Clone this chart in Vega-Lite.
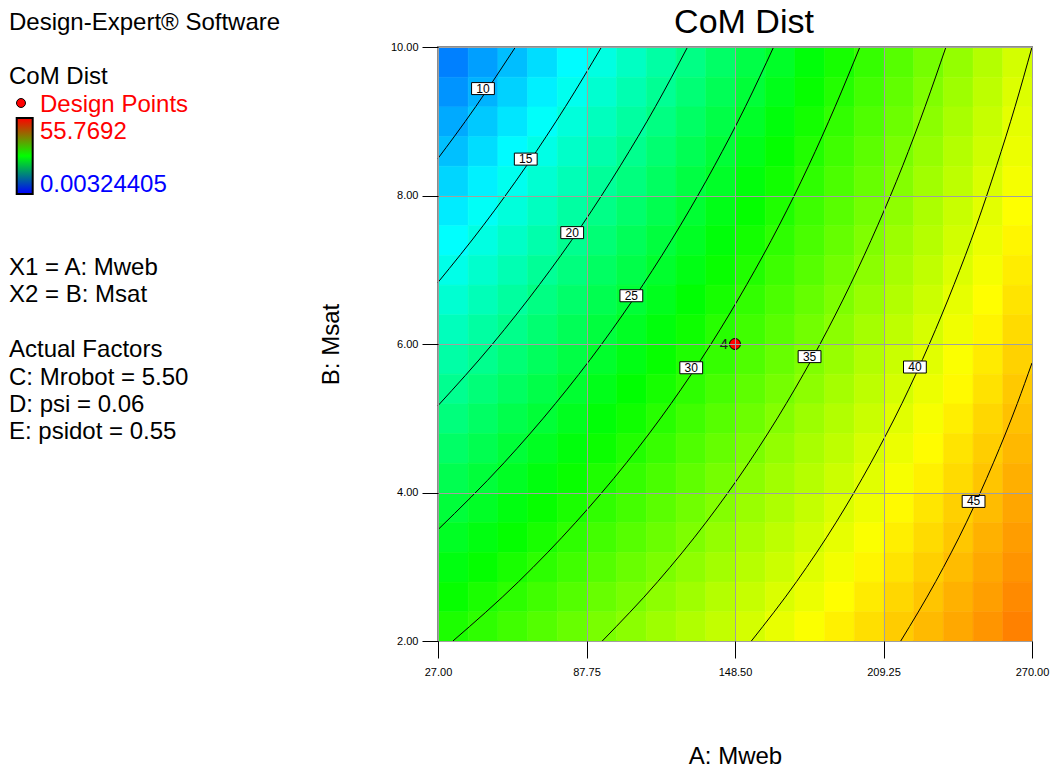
{
"$schema": "https://vega.github.io/schema/vega-lite/v6.json",
"background": "white",
"padding": {"left": 0, "top": 5, "right": 0, "bottom": 0},
"config": {"font": "Liberation Sans", "concat": {"spacing": 18}},
"spacing": 18,
"resolve": {"scale": {"x": "independent", "y": "independent", "color": "independent"}},
"datasets": {
"notes": [
{"t": "Design-Expert® Software", "col": 0.9, "u": -0.907, "kind": "plain"},
{"t": "CoM Dist", "col": 0.9, "u": 1.093, "kind": "plain"},
{"t": "Design Points", "col": 4.0, "u": 2.13, "kind": "max"},
{"t": "55.7692", "col": 4.0, "u": 3.13, "kind": "max"},
{"t": "0.00324405", "col": 4.0, "u": 5.093, "kind": "min"},
{"t": "X1 = A: Mweb", "col": 0.9, "u": 8.185, "kind": "plain"},
{"t": "X2 = B: Msat", "col": 0.9, "u": 9.185, "kind": "plain"},
{"t": "Actual Factors", "col": 0.9, "u": 11.222, "kind": "plain"},
{"t": "C: Mrobot = 5.50", "col": 0.9, "u": 12.259, "kind": "plain"},
{"t": "D: psi = 0.06", "col": 0.9, "u": 13.259, "kind": "plain"},
{"t": "E: psidot = 0.55", "col": 0.9, "u": 14.259, "kind": "plain"}
],
"bar": [{"c0": 1.67, "c1": 3.27, "u0": 2.63, "u1": 5.44}],
"marker": [{"col": 2.1, "u": 2.074}],
"labels": [
{"lv": "10", "a": 45.4, "b": 9.44},
{"lv": "15", "a": 62.9, "b": 8.49},
{"lv": "20", "a": 81.9, "b": 7.5},
{"lv": "25", "a": 106.1, "b": 6.65},
{"lv": "30", "a": 130.6, "b": 5.68},
{"lv": "35", "a": 179.0, "b": 5.83},
{"lv": "40", "a": 222.1, "b": 5.69},
{"lv": "45", "a": 246.1, "b": 3.88}
],
"design": [{"a": 148.5, "b": 6, "n": "4"}],
"contours": [
{"lv": 10, "a": 27, "b": 8.5}, {"lv": 10, "a": 33.8, "b": 8.8}, {"lv": 10, "a": 42.5, "b": 9.2}, {"lv": 10, "a": 50.7, "b": 9.6}, {"lv": 10, "a": 58.7, "b": 10},
{"lv": 15, "a": 27, "b": 6.83}, {"lv": 15, "a": 45.6, "b": 7.6}, {"lv": 15, "a": 63.2, "b": 8.4}, {"lv": 15, "a": 79.2, "b": 9.2}, {"lv": 15, "a": 93.9, "b": 10},
{"lv": 20, "a": 27, "b": 5.17}, {"lv": 20, "a": 49.3, "b": 6.0}, {"lv": 20, "a": 68.5, "b": 6.8}, {"lv": 20, "a": 85.9, "b": 7.6}, {"lv": 20, "a": 101.6, "b": 8.4}, {"lv": 20, "a": 116.0, "b": 9.2}, {"lv": 20, "a": 129.1, "b": 10},
{"lv": 25, "a": 27, "b": 3.5}, {"lv": 25, "a": 54.0, "b": 4.4}, {"lv": 25, "a": 75.1, "b": 5.2}, {"lv": 25, "a": 94.0, "b": 6.0}, {"lv": 25, "a": 110.9, "b": 6.8}, {"lv": 25, "a": 126.2, "b": 7.6}, {"lv": 25, "a": 140.1, "b": 8.4}, {"lv": 25, "a": 152.8, "b": 9.2}, {"lv": 25, "a": 164.3, "b": 10},
{"lv": 30, "a": 33.1, "b": 2}, {"lv": 30, "a": 60.0, "b": 2.8}, {"lv": 30, "a": 83.4, "b": 3.6}, {"lv": 30, "a": 104.1, "b": 4.4}, {"lv": 30, "a": 122.4, "b": 5.2}, {"lv": 30, "a": 138.7, "b": 6.0}, {"lv": 30, "a": 153.3, "b": 6.8}, {"lv": 30, "a": 166.6, "b": 7.6}, {"lv": 30, "a": 178.6, "b": 8.4}, {"lv": 30, "a": 189.5, "b": 9.2}, {"lv": 30, "a": 199.6, "b": 10},
{"lv": 35, "a": 94.2, "b": 2}, {"lv": 35, "a": 116.9, "b": 2.8}, {"lv": 35, "a": 136.7, "b": 3.6}, {"lv": 35, "a": 154.1, "b": 4.4}, {"lv": 35, "a": 169.5, "b": 5.2}, {"lv": 35, "a": 183.3, "b": 6.0}, {"lv": 35, "a": 195.7, "b": 6.8}, {"lv": 35, "a": 206.9, "b": 7.6}, {"lv": 35, "a": 217.1, "b": 8.4}, {"lv": 35, "a": 226.3, "b": 9.2}, {"lv": 35, "a": 234.8, "b": 10},
{"lv": 40, "a": 155.2, "b": 2}, {"lv": 40, "a": 173.7, "b": 2.8}, {"lv": 40, "a": 189.9, "b": 3.6}, {"lv": 40, "a": 204.1, "b": 4.4}, {"lv": 40, "a": 216.8, "b": 5.2}, {"lv": 40, "a": 228.0, "b": 6.0}, {"lv": 40, "a": 238.1, "b": 6.8}, {"lv": 40, "a": 247.3, "b": 7.6}, {"lv": 40, "a": 255.5, "b": 8.4}, {"lv": 40, "a": 263.1, "b": 9.2}, {"lv": 40, "a": 270, "b": 10},
{"lv": 45, "a": 216.3, "b": 2}, {"lv": 45, "a": 230.6, "b": 2.8}, {"lv": 45, "a": 243.2, "b": 3.6}, {"lv": 45, "a": 254.2, "b": 4.4}, {"lv": 45, "a": 264.0, "b": 5.2}, {"lv": 45, "a": 270, "b": 5.745}
],
"grid": [
{"a":33.1,"b":9.8,"v":7.0},{"a":45.2,"b":9.8,"v":8.7},{"a":57.4,"b":9.8,"v":10.4},{"a":69.5,"b":9.8,"v":12.1},{"a":81.7,"b":9.8,"v":13.8},{"a":93.8,"b":9.8,"v":15.5},{"a":106,"b":9.8,"v":17.2},{"a":118.1,"b":9.8,"v":18.9},{"a":130.3,"b":9.8,"v":20.6},{"a":142.4,"b":9.8,"v":22.3},{"a":154.6,"b":9.8,"v":24.0},{"a":166.7,"b":9.8,"v":25.7},{"a":178.9,"b":9.8,"v":27.4},{"a":191,"b":9.8,"v":29.1},{"a":203.2,"b":9.8,"v":30.8},{"a":215.3,"b":9.8,"v":32.6},{"a":227.5,"b":9.8,"v":34.3},{"a":239.6,"b":9.8,"v":36.0},{"a":251.8,"b":9.8,"v":37.7},{"a":263.9,"b":9.8,"v":39.4},
{"a":33.1,"b":9.4,"v":8.1},{"a":45.2,"b":9.4,"v":9.8},{"a":57.4,"b":9.4,"v":11.5},{"a":69.5,"b":9.4,"v":13.1},{"a":81.7,"b":9.4,"v":14.8},{"a":93.8,"b":9.4,"v":16.5},{"a":106,"b":9.4,"v":18.2},{"a":118.1,"b":9.4,"v":19.8},{"a":130.3,"b":9.4,"v":21.5},{"a":142.4,"b":9.4,"v":23.2},{"a":154.6,"b":9.4,"v":24.8},{"a":166.7,"b":9.4,"v":26.5},{"a":178.9,"b":9.4,"v":28.2},{"a":191,"b":9.4,"v":29.8},{"a":203.2,"b":9.4,"v":31.5},{"a":215.3,"b":9.4,"v":33.2},{"a":227.5,"b":9.4,"v":34.9},{"a":239.6,"b":9.4,"v":36.5},{"a":251.8,"b":9.4,"v":38.2},{"a":263.9,"b":9.4,"v":39.9},
{"a":33.1,"b":9.0,"v":9.3},{"a":45.2,"b":9.0,"v":11.0},{"a":57.4,"b":9.0,"v":12.6},{"a":69.5,"b":9.0,"v":14.2},{"a":81.7,"b":9.0,"v":15.9},{"a":93.8,"b":9.0,"v":17.5},{"a":106,"b":9.0,"v":19.1},{"a":118.1,"b":9.0,"v":20.8},{"a":130.3,"b":9.0,"v":22.4},{"a":142.4,"b":9.0,"v":24.0},{"a":154.6,"b":9.0,"v":25.7},{"a":166.7,"b":9.0,"v":27.3},{"a":178.9,"b":9.0,"v":28.9},{"a":191,"b":9.0,"v":30.6},{"a":203.2,"b":9.0,"v":32.2},{"a":215.3,"b":9.0,"v":33.8},{"a":227.5,"b":9.0,"v":35.5},{"a":239.6,"b":9.0,"v":37.1},{"a":251.8,"b":9.0,"v":38.7},{"a":263.9,"b":9.0,"v":40.4},
{"a":33.1,"b":8.6,"v":10.5},{"a":45.2,"b":8.6,"v":12.1},{"a":57.4,"b":8.6,"v":13.7},{"a":69.5,"b":8.6,"v":15.3},{"a":81.7,"b":8.6,"v":16.9},{"a":93.8,"b":8.6,"v":18.5},{"a":106,"b":8.6,"v":20.1},{"a":118.1,"b":8.6,"v":21.7},{"a":130.3,"b":8.6,"v":23.3},{"a":142.4,"b":8.6,"v":24.9},{"a":154.6,"b":8.6,"v":26.5},{"a":166.7,"b":8.6,"v":28.1},{"a":178.9,"b":8.6,"v":29.7},{"a":191,"b":8.6,"v":31.3},{"a":203.2,"b":8.6,"v":32.9},{"a":215.3,"b":8.6,"v":34.5},{"a":227.5,"b":8.6,"v":36.1},{"a":239.6,"b":8.6,"v":37.7},{"a":251.8,"b":8.6,"v":39.2},{"a":263.9,"b":8.6,"v":40.8},
{"a":33.1,"b":8.2,"v":11.7},{"a":45.2,"b":8.2,"v":13.2},{"a":57.4,"b":8.2,"v":14.8},{"a":69.5,"b":8.2,"v":16.4},{"a":81.7,"b":8.2,"v":17.9},{"a":93.8,"b":8.2,"v":19.5},{"a":106,"b":8.2,"v":21.0},{"a":118.1,"b":8.2,"v":22.6},{"a":130.3,"b":8.2,"v":24.2},{"a":142.4,"b":8.2,"v":25.7},{"a":154.6,"b":8.2,"v":27.3},{"a":166.7,"b":8.2,"v":28.8},{"a":178.9,"b":8.2,"v":30.4},{"a":191,"b":8.2,"v":32.0},{"a":203.2,"b":8.2,"v":33.5},{"a":215.3,"b":8.2,"v":35.1},{"a":227.5,"b":8.2,"v":36.7},{"a":239.6,"b":8.2,"v":38.2},{"a":251.8,"b":8.2,"v":39.8},{"a":263.9,"b":8.2,"v":41.3},
{"a":33.1,"b":7.8,"v":12.9},{"a":45.2,"b":7.8,"v":14.4},{"a":57.4,"b":7.8,"v":15.9},{"a":69.5,"b":7.8,"v":17.4},{"a":81.7,"b":7.8,"v":19.0},{"a":93.8,"b":7.8,"v":20.5},{"a":106,"b":7.8,"v":22.0},{"a":118.1,"b":7.8,"v":23.5},{"a":130.3,"b":7.8,"v":25.1},{"a":142.4,"b":7.8,"v":26.6},{"a":154.6,"b":7.8,"v":28.1},{"a":166.7,"b":7.8,"v":29.6},{"a":178.9,"b":7.8,"v":31.2},{"a":191,"b":7.8,"v":32.7},{"a":203.2,"b":7.8,"v":34.2},{"a":215.3,"b":7.8,"v":35.7},{"a":227.5,"b":7.8,"v":37.3},{"a":239.6,"b":7.8,"v":38.8},{"a":251.8,"b":7.8,"v":40.3},{"a":263.9,"b":7.8,"v":41.8},
{"a":33.1,"b":7.4,"v":14.0},{"a":45.2,"b":7.4,"v":15.5},{"a":57.4,"b":7.4,"v":17.0},{"a":69.5,"b":7.4,"v":18.5},{"a":81.7,"b":7.4,"v":20.0},{"a":93.8,"b":7.4,"v":21.5},{"a":106,"b":7.4,"v":23.0},{"a":118.1,"b":7.4,"v":24.5},{"a":130.3,"b":7.4,"v":25.9},{"a":142.4,"b":7.4,"v":27.4},{"a":154.6,"b":7.4,"v":28.9},{"a":166.7,"b":7.4,"v":30.4},{"a":178.9,"b":7.4,"v":31.9},{"a":191,"b":7.4,"v":33.4},{"a":203.2,"b":7.4,"v":34.9},{"a":215.3,"b":7.4,"v":36.4},{"a":227.5,"b":7.4,"v":37.8},{"a":239.6,"b":7.4,"v":39.3},{"a":251.8,"b":7.4,"v":40.8},{"a":263.9,"b":7.4,"v":42.3},
{"a":33.1,"b":7.0,"v":15.2},{"a":45.2,"b":7.0,"v":16.7},{"a":57.4,"b":7.0,"v":18.1},{"a":69.5,"b":7.0,"v":19.6},{"a":81.7,"b":7.0,"v":21.0},{"a":93.8,"b":7.0,"v":22.5},{"a":106,"b":7.0,"v":23.9},{"a":118.1,"b":7.0,"v":25.4},{"a":130.3,"b":7.0,"v":26.8},{"a":142.4,"b":7.0,"v":28.3},{"a":154.6,"b":7.0,"v":29.7},{"a":166.7,"b":7.0,"v":31.2},{"a":178.9,"b":7.0,"v":32.6},{"a":191,"b":7.0,"v":34.1},{"a":203.2,"b":7.0,"v":35.5},{"a":215.3,"b":7.0,"v":37.0},{"a":227.5,"b":7.0,"v":38.4},{"a":239.6,"b":7.0,"v":39.9},{"a":251.8,"b":7.0,"v":41.3},{"a":263.9,"b":7.0,"v":42.8},
{"a":33.1,"b":6.6,"v":16.4},{"a":45.2,"b":6.6,"v":17.8},{"a":57.4,"b":6.6,"v":19.2},{"a":69.5,"b":6.6,"v":20.7},{"a":81.7,"b":6.6,"v":22.1},{"a":93.8,"b":6.6,"v":23.5},{"a":106,"b":6.6,"v":24.9},{"a":118.1,"b":6.6,"v":26.3},{"a":130.3,"b":6.6,"v":27.7},{"a":142.4,"b":6.6,"v":29.1},{"a":154.6,"b":6.6,"v":30.6},{"a":166.7,"b":6.6,"v":32.0},{"a":178.9,"b":6.6,"v":33.4},{"a":191,"b":6.6,"v":34.8},{"a":203.2,"b":6.6,"v":36.2},{"a":215.3,"b":6.6,"v":37.6},{"a":227.5,"b":6.6,"v":39.0},{"a":239.6,"b":6.6,"v":40.5},{"a":251.8,"b":6.6,"v":41.9},{"a":263.9,"b":6.6,"v":43.3},
{"a":33.1,"b":6.2,"v":17.6},{"a":45.2,"b":6.2,"v":19.0},{"a":57.4,"b":6.2,"v":20.3},{"a":69.5,"b":6.2,"v":21.7},{"a":81.7,"b":6.2,"v":23.1},{"a":93.8,"b":6.2,"v":24.5},{"a":106,"b":6.2,"v":25.9},{"a":118.1,"b":6.2,"v":27.2},{"a":130.3,"b":6.2,"v":28.6},{"a":142.4,"b":6.2,"v":30.0},{"a":154.6,"b":6.2,"v":31.4},{"a":166.7,"b":6.2,"v":32.7},{"a":178.9,"b":6.2,"v":34.1},{"a":191,"b":6.2,"v":35.5},{"a":203.2,"b":6.2,"v":36.9},{"a":215.3,"b":6.2,"v":38.3},{"a":227.5,"b":6.2,"v":39.6},{"a":239.6,"b":6.2,"v":41.0},{"a":251.8,"b":6.2,"v":42.4},{"a":263.9,"b":6.2,"v":43.8},
{"a":33.1,"b":5.8,"v":18.8},{"a":45.2,"b":5.8,"v":20.1},{"a":57.4,"b":5.8,"v":21.5},{"a":69.5,"b":5.8,"v":22.8},{"a":81.7,"b":5.8,"v":24.1},{"a":93.8,"b":5.8,"v":25.5},{"a":106,"b":5.8,"v":26.8},{"a":118.1,"b":5.8,"v":28.2},{"a":130.3,"b":5.8,"v":29.5},{"a":142.4,"b":5.8,"v":30.8},{"a":154.6,"b":5.8,"v":32.2},{"a":166.7,"b":5.8,"v":33.5},{"a":178.9,"b":5.8,"v":34.9},{"a":191,"b":5.8,"v":36.2},{"a":203.2,"b":5.8,"v":37.6},{"a":215.3,"b":5.8,"v":38.9},{"a":227.5,"b":5.8,"v":40.2},{"a":239.6,"b":5.8,"v":41.6},{"a":251.8,"b":5.8,"v":42.9},{"a":263.9,"b":5.8,"v":44.3},
{"a":33.1,"b":5.4,"v":20.0},{"a":45.2,"b":5.4,"v":21.3},{"a":57.4,"b":5.4,"v":22.6},{"a":69.5,"b":5.4,"v":23.9},{"a":81.7,"b":5.4,"v":25.2},{"a":93.8,"b":5.4,"v":26.5},{"a":106,"b":5.4,"v":27.8},{"a":118.1,"b":5.4,"v":29.1},{"a":130.3,"b":5.4,"v":30.4},{"a":142.4,"b":5.4,"v":31.7},{"a":154.6,"b":5.4,"v":33.0},{"a":166.7,"b":5.4,"v":34.3},{"a":178.9,"b":5.4,"v":35.6},{"a":191,"b":5.4,"v":36.9},{"a":203.2,"b":5.4,"v":38.2},{"a":215.3,"b":5.4,"v":39.5},{"a":227.5,"b":5.4,"v":40.8},{"a":239.6,"b":5.4,"v":42.1},{"a":251.8,"b":5.4,"v":43.4},{"a":263.9,"b":5.4,"v":44.8},
{"a":33.1,"b":5.0,"v":21.1},{"a":45.2,"b":5.0,"v":22.4},{"a":57.4,"b":5.0,"v":23.7},{"a":69.5,"b":5.0,"v":24.9},{"a":81.7,"b":5.0,"v":26.2},{"a":93.8,"b":5.0,"v":27.5},{"a":106,"b":5.0,"v":28.7},{"a":118.1,"b":5.0,"v":30.0},{"a":130.3,"b":5.0,"v":31.3},{"a":142.4,"b":5.0,"v":32.6},{"a":154.6,"b":5.0,"v":33.8},{"a":166.7,"b":5.0,"v":35.1},{"a":178.9,"b":5.0,"v":36.4},{"a":191,"b":5.0,"v":37.6},{"a":203.2,"b":5.0,"v":38.9},{"a":215.3,"b":5.0,"v":40.2},{"a":227.5,"b":5.0,"v":41.4},{"a":239.6,"b":5.0,"v":42.7},{"a":251.8,"b":5.0,"v":44.0},{"a":263.9,"b":5.0,"v":45.2},
{"a":33.1,"b":4.6,"v":22.3},{"a":45.2,"b":4.6,"v":23.5},{"a":57.4,"b":4.6,"v":24.8},{"a":69.5,"b":4.6,"v":26.0},{"a":81.7,"b":4.6,"v":27.2},{"a":93.8,"b":4.6,"v":28.5},{"a":106,"b":4.6,"v":29.7},{"a":118.1,"b":4.6,"v":30.9},{"a":130.3,"b":4.6,"v":32.2},{"a":142.4,"b":4.6,"v":33.4},{"a":154.6,"b":4.6,"v":34.6},{"a":166.7,"b":4.6,"v":35.9},{"a":178.9,"b":4.6,"v":37.1},{"a":191,"b":4.6,"v":38.3},{"a":203.2,"b":4.6,"v":39.6},{"a":215.3,"b":4.6,"v":40.8},{"a":227.5,"b":4.6,"v":42.0},{"a":239.6,"b":4.6,"v":43.3},{"a":251.8,"b":4.6,"v":44.5},{"a":263.9,"b":4.6,"v":45.7},
{"a":33.1,"b":4.2,"v":23.5},{"a":45.2,"b":4.2,"v":24.7},{"a":57.4,"b":4.2,"v":25.9},{"a":69.5,"b":4.2,"v":27.1},{"a":81.7,"b":4.2,"v":28.3},{"a":93.8,"b":4.2,"v":29.5},{"a":106,"b":4.2,"v":30.7},{"a":118.1,"b":4.2,"v":31.9},{"a":130.3,"b":4.2,"v":33.1},{"a":142.4,"b":4.2,"v":34.3},{"a":154.6,"b":4.2,"v":35.5},{"a":166.7,"b":4.2,"v":36.7},{"a":178.9,"b":4.2,"v":37.8},{"a":191,"b":4.2,"v":39.0},{"a":203.2,"b":4.2,"v":40.2},{"a":215.3,"b":4.2,"v":41.4},{"a":227.5,"b":4.2,"v":42.6},{"a":239.6,"b":4.2,"v":43.8},{"a":251.8,"b":4.2,"v":45.0},{"a":263.9,"b":4.2,"v":46.2},
{"a":33.1,"b":3.8,"v":24.7},{"a":45.2,"b":3.8,"v":25.8},{"a":57.4,"b":3.8,"v":27.0},{"a":69.5,"b":3.8,"v":28.2},{"a":81.7,"b":3.8,"v":29.3},{"a":93.8,"b":3.8,"v":30.5},{"a":106,"b":3.8,"v":31.6},{"a":118.1,"b":3.8,"v":32.8},{"a":130.3,"b":3.8,"v":34.0},{"a":142.4,"b":3.8,"v":35.1},{"a":154.6,"b":3.8,"v":36.3},{"a":166.7,"b":3.8,"v":37.4},{"a":178.9,"b":3.8,"v":38.6},{"a":191,"b":3.8,"v":39.8},{"a":203.2,"b":3.8,"v":40.9},{"a":215.3,"b":3.8,"v":42.1},{"a":227.5,"b":3.8,"v":43.2},{"a":239.6,"b":3.8,"v":44.4},{"a":251.8,"b":3.8,"v":45.5},{"a":263.9,"b":3.8,"v":46.7},
{"a":33.1,"b":3.4,"v":25.9},{"a":45.2,"b":3.4,"v":27.0},{"a":57.4,"b":3.4,"v":28.1},{"a":69.5,"b":3.4,"v":29.2},{"a":81.7,"b":3.4,"v":30.4},{"a":93.8,"b":3.4,"v":31.5},{"a":106,"b":3.4,"v":32.6},{"a":118.1,"b":3.4,"v":33.7},{"a":130.3,"b":3.4,"v":34.8},{"a":142.4,"b":3.4,"v":36.0},{"a":154.6,"b":3.4,"v":37.1},{"a":166.7,"b":3.4,"v":38.2},{"a":178.9,"b":3.4,"v":39.3},{"a":191,"b":3.4,"v":40.5},{"a":203.2,"b":3.4,"v":41.6},{"a":215.3,"b":3.4,"v":42.7},{"a":227.5,"b":3.4,"v":43.8},{"a":239.6,"b":3.4,"v":44.9},{"a":251.8,"b":3.4,"v":46.1},{"a":263.9,"b":3.4,"v":47.2},
{"a":33.1,"b":3.0,"v":27.0},{"a":45.2,"b":3.0,"v":28.1},{"a":57.4,"b":3.0,"v":29.2},{"a":69.5,"b":3.0,"v":30.3},{"a":81.7,"b":3.0,"v":31.4},{"a":93.8,"b":3.0,"v":32.5},{"a":106,"b":3.0,"v":33.6},{"a":118.1,"b":3.0,"v":34.6},{"a":130.3,"b":3.0,"v":35.7},{"a":142.4,"b":3.0,"v":36.8},{"a":154.6,"b":3.0,"v":37.9},{"a":166.7,"b":3.0,"v":39.0},{"a":178.9,"b":3.0,"v":40.1},{"a":191,"b":3.0,"v":41.2},{"a":203.2,"b":3.0,"v":42.3},{"a":215.3,"b":3.0,"v":43.3},{"a":227.5,"b":3.0,"v":44.4},{"a":239.6,"b":3.0,"v":45.5},{"a":251.8,"b":3.0,"v":46.6},{"a":263.9,"b":3.0,"v":47.7},
{"a":33.1,"b":2.6,"v":28.2},{"a":45.2,"b":2.6,"v":29.3},{"a":57.4,"b":2.6,"v":30.3},{"a":69.5,"b":2.6,"v":31.4},{"a":81.7,"b":2.6,"v":32.4},{"a":93.8,"b":2.6,"v":33.5},{"a":106,"b":2.6,"v":34.5},{"a":118.1,"b":2.6,"v":35.6},{"a":130.3,"b":2.6,"v":36.6},{"a":142.4,"b":2.6,"v":37.7},{"a":154.6,"b":2.6,"v":38.7},{"a":166.7,"b":2.6,"v":39.8},{"a":178.9,"b":2.6,"v":40.8},{"a":191,"b":2.6,"v":41.9},{"a":203.2,"b":2.6,"v":42.9},{"a":215.3,"b":2.6,"v":44.0},{"a":227.5,"b":2.6,"v":45.0},{"a":239.6,"b":2.6,"v":46.1},{"a":251.8,"b":2.6,"v":47.1},{"a":263.9,"b":2.6,"v":48.2},
{"a":33.1,"b":2.2,"v":29.4},{"a":45.2,"b":2.2,"v":30.4},{"a":57.4,"b":2.2,"v":31.4},{"a":69.5,"b":2.2,"v":32.4},{"a":81.7,"b":2.2,"v":33.5},{"a":93.8,"b":2.2,"v":34.5},{"a":106,"b":2.2,"v":35.5},{"a":118.1,"b":2.2,"v":36.5},{"a":130.3,"b":2.2,"v":37.5},{"a":142.4,"b":2.2,"v":38.5},{"a":154.6,"b":2.2,"v":39.5},{"a":166.7,"b":2.2,"v":40.6},{"a":178.9,"b":2.2,"v":41.6},{"a":191,"b":2.2,"v":42.6},{"a":203.2,"b":2.2,"v":43.6},{"a":215.3,"b":2.2,"v":44.6},{"a":227.5,"b":2.2,"v":45.6},{"a":239.6,"b":2.2,"v":46.6},{"a":251.8,"b":2.2,"v":47.6},{"a":263.9,"b":2.2,"v":48.7}
]
},
"hconcat": [
{
"width": 300, "height": 594,
"view": {"stroke": null},
"layer": [
{
"data": {"name": "bar"},
"mark": {"type": "rect", "stroke": "black", "strokeWidth": 2, "fill": {"gradient": "linear", "x1": 0, "y1": 0, "x2": 0, "y2": 1, "stops": [{"offset": 0, "color": "#ff0000"}, {"offset": 0.5, "color": "#00ff00"}, {"offset": 1, "color": "#0000ff"}]}},
"encoding": {
"x": {"field": "c0", "type": "quantitative", "scale": {"domain": [0, 30], "nice": false, "zero": false}, "axis": null},
"x2": {"field": "c1"},
"y": {"field": "u0", "type": "quantitative", "scale": {"domain": [0, 22], "reverse": true, "nice": false, "zero": false}, "axis": null},
"y2": {"field": "u1"}
}
},
{
"data": {"name": "marker"},
"mark": {"type": "point", "shape": "circle", "filled": true, "fill": "#ff0000", "stroke": "black", "strokeWidth": 1, "size": 80, "opacity": 1},
"encoding": {
"x": {"field": "col", "type": "quantitative"},
"y": {"field": "u", "type": "quantitative"}
}
},
{
"data": {"name": "notes"},
"mark": {"type": "text", "align": "left", "baseline": "middle", "fontSize": 24},
"encoding": {
"x": {"field": "col", "type": "quantitative"},
"y": {"field": "u", "type": "quantitative"},
"text": {"field": "t"},
"color": {"field": "kind", "type": "nominal", "scale": {"domain": ["plain", "max", "min"], "range": ["#000000", "#ff0000", "#0000ff"]}, "legend": null}
}
}
]
},
{
"width": 594, "height": 594,
"title": {"text": "CoM Dist", "fontSize": 34, "fontWeight": "normal", "color": "black", "offset": 1, "dx": 9},
"view": {"stroke": "#8c8c8c", "strokeWidth": 2},
"layer": [
{
"data": {"name": "grid"},
"mark": {"type": "rect", "strokeWidth": 0.6},
"encoding": {
"x": {"field": "a", "type": "quantitative", "bin": {"step": 12.15, "extent": [27, 270], "nice": false}, "scale": {"domain": [27, 270], "nice": false, "zero": false},
"axis": {"values": [27, 87.75, 148.5, 209.25, 270], "format": ".2f", "title": "A: Mweb", "titleFontSize": 24, "titleFontWeight": "normal", "titleColor": "black", "titlePadding": 67, "labelFontSize": 11, "labelColor": "black", "labelFlush": false, "labelPadding": 8, "tickSize": 17, "tickColor": "black", "grid": true, "gridColor": "#a0a0a0", "gridWidth": 1, "domain": false, "zindex": 1}},
"y": {"field": "b", "type": "quantitative", "bin": {"step": 0.4, "extent": [2, 10], "nice": false}, "scale": {"domain": [2, 10], "nice": false, "zero": false},
"axis": {"values": [2, 4, 6, 8, 10], "format": ".2f", "title": "B: Msat", "titleFontSize": 24, "titleFontWeight": "normal", "titleColor": "black", "titlePadding": 47, "labelFontSize": 11, "labelColor": "black", "labelFlush": false, "labelPadding": 4, "tickSize": 16, "tickColor": "black", "grid": true, "gridColor": "#a0a0a0", "gridWidth": 1, "domain": false, "zindex": 1}},
"color": {"field": "v", "type": "quantitative", "scale": {"domain": [0, 13.94, 27.88, 41.83, 55.77], "range": ["#0000ff", "#00ffff", "#00ff00", "#ffff00", "#ff0000"], "interpolate": "rgb"}, "legend": null},
"stroke": {"field": "v", "type": "quantitative", "scale": {"domain": [0, 13.94, 27.88, 41.83, 55.77], "range": ["#0000ff", "#00ffff", "#00ff00", "#ffff00", "#ff0000"], "interpolate": "rgb"}, "legend": null}
}
},
{
"data": {"name": "contours"},
"mark": {"type": "line", "color": "black", "strokeWidth": 1, "interpolate": "monotone"},
"encoding": {
"x": {"field": "a", "type": "quantitative"},
"y": {"field": "b", "type": "quantitative"},
"detail": {"field": "lv", "type": "nominal"}
}
},
{
"data": {"name": "labels"},
"mark": {"type": "point", "shape": "M-1.9,-1H1.9V1H-1.9Z", "filled": true, "fill": "white", "stroke": "black", "strokeWidth": 1, "size": 144, "opacity": 1},
"encoding": {
"x": {"field": "a", "type": "quantitative"},
"y": {"field": "b", "type": "quantitative"}
}
},
{
"data": {"name": "labels"},
"mark": {"type": "text", "fontSize": 12, "align": "center", "baseline": "middle", "color": "black"},
"encoding": {
"x": {"field": "a", "type": "quantitative"},
"y": {"field": "b", "type": "quantitative"},
"text": {"field": "lv"}
}
},
{
"data": {"name": "design"},
"mark": {"type": "point", "shape": "circle", "filled": true, "fill": "#ff0000", "stroke": "black", "strokeWidth": 1, "size": 120, "opacity": 1},
"encoding": {
"x": {"field": "a", "type": "quantitative"},
"y": {"field": "b", "type": "quantitative"}
}
},
{
"data": {"name": "design"},
"mark": {"type": "text", "fontSize": 15, "align": "right", "baseline": "middle", "dx": -7, "color": "#222222"},
"encoding": {
"x": {"field": "a", "type": "quantitative"},
"y": {"field": "b", "type": "quantitative"},
"text": {"field": "n"}
}
}
]
}
]
}
